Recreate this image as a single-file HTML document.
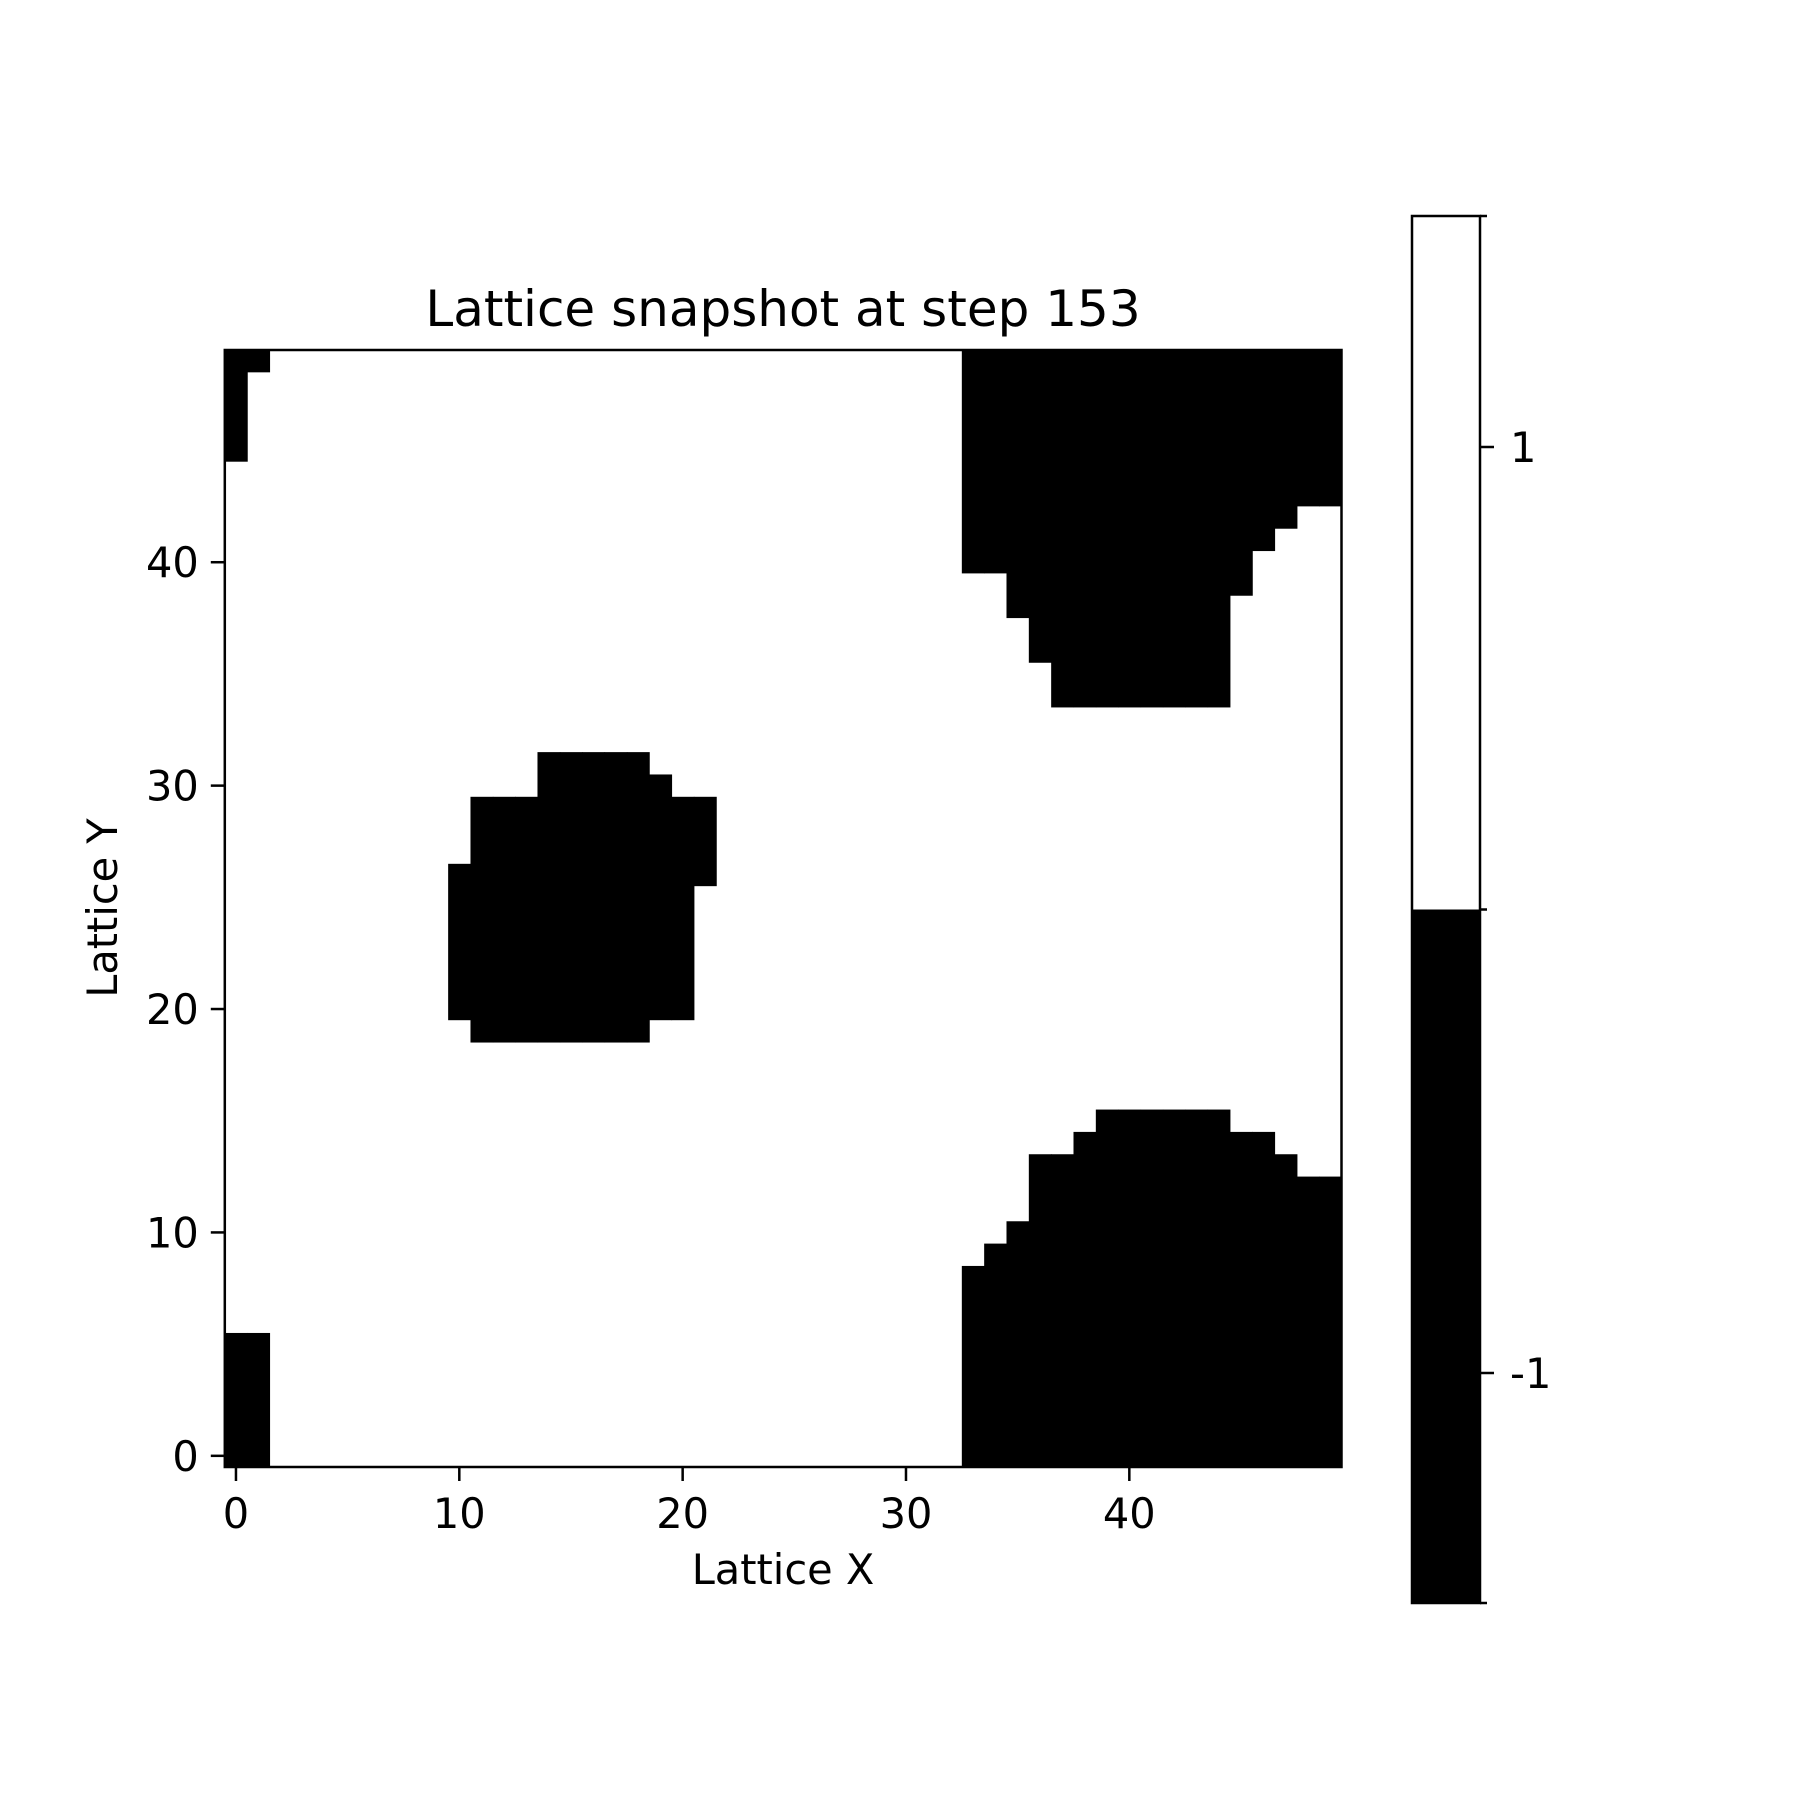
<!DOCTYPE html>
<html><head><meta charset="utf-8"><style>
html,body{margin:0;padding:0;background:#fff}
svg{display:block}
text{font-family:"DejaVu Sans","Liberation Sans",sans-serif;fill:#000}
</style></head><body>
<svg id="chart" width="1800" height="1800" viewBox="0 0 1800 1800">
<rect width="1800" height="1800" fill="#fff"/>
<g id="cells"></g>
<g id="axes"></g>
<text x="783" y="326" font-size="50" text-anchor="middle">Lattice snapshot at step 153</text>
<text x="783" y="1584" font-size="41.5" text-anchor="middle">Lattice X</text>
<text x="0" y="0" font-size="41.5" text-anchor="middle" transform="translate(117,908) rotate(-90)">Lattice Y</text>
<g id="cbar"></g>
</svg>
<script>
// Lattice size and spin-down (-1) cells as column runs: [column, yMin, yMax]
const gridSize = 50;
const downRuns = [
 [0,45,49],[1,49,49],[0,0,5],[1,0,5],
 [33,40,49],[34,40,49],[35,38,49],[36,36,49],[37,34,49],[38,34,49],[39,34,49],[40,34,49],[41,34,49],[42,34,49],[43,34,49],[44,34,49],[45,39,49],[46,41,49],[47,42,49],[48,43,49],[49,43,49],
 [33,0,8],[34,0,9],[35,0,10],[36,0,13],[37,0,13],[38,0,14],[39,0,15],[40,0,15],[41,0,15],[42,0,15],[43,0,15],[44,0,15],[45,0,14],[46,0,14],[47,0,13],[48,0,12],[49,0,12],
 [10,20,26],[11,19,29],[12,19,29],[13,19,29],[14,19,31],[15,19,31],[16,19,31],[17,19,31],[18,19,31],[19,20,30],[20,20,29],[21,26,29]
];
const xTicks = [0,10,20,30,40];
const yTicks = [0,10,20,30,40];
const cbarTickValues = [1,-1];
const cbarTickLabels = ["1","-1"];

const NS="http://www.w3.org/2000/svg";
const L=224.8,T=350,W=1116.7,H=1117;
const cw=W/gridSize, ch=H/gridSize;
const sx=v=>L+(v+0.5)*cw;
const sy=v=>T+(gridSize-1-v+0.5)*ch;
function mk(tag,attrs,parent){const e=document.createElementNS(NS,tag);for(const k in attrs)e.setAttribute(k,attrs[k]);parent.appendChild(e);return e;}
const cells=document.getElementById('cells');
downRuns.forEach(r=>{
  const y0=sy(r[2])-ch/2, y1=sy(r[1])+ch/2;
  const e=mk('rect',{x:sx(r[0])-cw/2,y:y0,width:cw+0.6,height:y1-y0,fill:'#000'},cells);
  
  
});
const ax=document.getElementById('axes');
const fr=mk('rect',{x:L,y:T,width:W,height:H,fill:'none',stroke:'#000','stroke-width':2.5},ax);


xTicks.forEach(v=>{
  const x=sx(v);
  const t=mk('line',{x1:x,x2:x,y1:T+H,y2:T+H+14,stroke:'#000','stroke-width':2.5},ax);
  
  
  const tx=mk('text',{x:x,y:1528,'font-size':41.5,'text-anchor':'middle'},ax);tx.textContent=v;
  
  
});
yTicks.forEach(v=>{
  const y=sy(v);
  const t=mk('line',{x1:L-14,x2:L,y1:y,y2:y,stroke:'#000','stroke-width':2.5},ax);
  
  
  const tx=mk('text',{x:L-26,y:y+15,'font-size':41.5,'text-anchor':'end'},ax);tx.textContent=v;
  
  
});
// colorbar
const cb=document.getElementById('cbar');
const CL=1412,CR=1480,CT=216,CB=1603,CM=(CT+CB)/2;
const r1=mk('rect',{x:CL,y:CM,width:CR-CL,height:CB-CM,fill:'#000'},cb);


const r2=mk('rect',{x:CL,y:CT,width:CR-CL,height:CB-CT,fill:'none',stroke:'#000','stroke-width':2.5},cb);


[CT,CM,CB].forEach(y=>{
  const t=mk('line',{x1:CR,x2:CR+7,y1:y,y2:y,stroke:'#000','stroke-width':2.5},cb);
  
  
});
const cval=v=>447+(1-v)/2*(1373-447);
cbarTickValues.forEach((v,i)=>{
  const y=cval(v);
  const t=mk('line',{x1:CR,x2:CR+14,y1:y,y2:y,stroke:'#000','stroke-width':2.5},cb);
  
  
  const tx=mk('text',{x:CR+30,y:y+15,'font-size':41.5},cb);tx.textContent=cbarTickLabels[i];
  
  
});
</script>
</body></html>
